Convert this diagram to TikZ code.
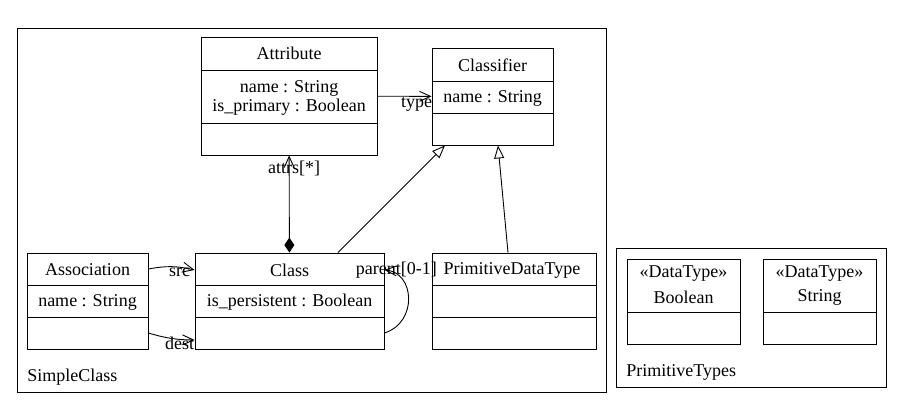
\documentclass[tikz,border=0pt]{standalone}
\usepackage{fontspec}
\setmainfont{Liberation Serif}
\usetikzlibrary{arrows.meta, positioning}

\begin{document}
\begin{tikzpicture}[x=1pt, y=-1pt, line width=0.9pt,
    font=\fontsize{18}{19.5}\selectfont,
    every node/.style={inner sep=0pt},
    box/.style={draw, minimum width=#1},
    navi/.style={-{Straight Barb[length=11pt, width=10pt]}},
    gen/.style={-{Triangle[open, length=13pt, width=10pt]}},
    comp/.style={{Diamond[length=15pt, width=10pt]}-{Straight Barb[length=11pt, width=10pt]}}]
  \useasboundingbox (0,0) rectangle (901,408);

  % packages
  \draw (17,28) rectangle (606,392);
  \node[anchor=west] (simpleclass) at (27,377) {SimpleClass};
  \draw (616,248) rectangle (886,387);
  \node[anchor=west] (primtypes) at (626,372) {PrimitiveTypes};

  % Attribute
  \node[box=176pt, minimum height=118pt] (attr) at (289,96) {};
  \draw (attr.west |- 0,70) -- (attr.east |- 0,70);
  \draw (attr.west |- 0,123) -- (attr.east |- 0,123);
  \node (attrtitle) at (289,53) {Attribute};
  \node[align=center] (attrfields) at (289,98) {name : String\\is\_primary : Boolean};

  % Classifier
  \node[box=121pt, minimum height=97pt] (clsf) at (492.5,96.5) {};
  \draw (clsf.west |- 0,81) -- (clsf.east |- 0,81);
  \draw (clsf.west |- 0,113) -- (clsf.east |- 0,113);
  \node (clsftitle) at (492.5,65) {Classifier};
  \node (clsffield) at (492.5,98) {name : String};

  % Association
  \node[box=121pt, minimum height=96pt] (assoc) at (87.5,301) {};
  \draw (assoc.west |- 0,285) -- (assoc.east |- 0,285);
  \draw (assoc.west |- 0,317) -- (assoc.east |- 0,317);
  \node (assoctitle) at (87.5,270) {Association};
  \node (assocfield) at (87.5,302) {name : String};

  % Class
  \node[box=189pt, minimum height=96pt] (class) at (289.5,301) {};
  \draw (class.west |- 0,285) -- (class.east |- 0,285);
  \draw (class.west |- 0,317) -- (class.east |- 0,317);
  \node (classtitle) at (289.5,270) {Class};
  \node (classfield) at (289.5,302) {is\_persistent : Boolean};

  % PrimitiveDataType
  \node[box=164pt, minimum height=96pt] (pdt) at (514,301) {};
  \draw (pdt.west |- 0,285) -- (pdt.east |- 0,285);
  \draw (pdt.west |- 0,317) -- (pdt.east |- 0,317);
  \node (pdttitle) at (512,270) {PrimitiveDataType};

  % data types
  \node[box=113pt, minimum height=85pt] (bool) at (683.5,301.5) {};
  \draw (bool.west |- 0,312) -- (bool.east |- 0,312);
  \node (boolst) at (683.5,274) {«DataType»};
  \node (boolname) at (683.5,297.5) {Boolean};
  \node[box=113pt, minimum height=85pt] (str) at (819.5,301.5) {};
  \draw (str.west |- 0,312) -- (str.east |- 0,312);
  \node (strst) at (819.5,274) {«DataType»};
  \node (strname) at (819.5,297.5) {String};

  % connectors
  \draw[navi] (attr) -- (clsf)
    node[at end, anchor=north east, xshift=1pt, yshift=-1pt] (typelbl) {type};
  \draw[comp] (class) -- (attr)
    node[at end, anchor=north, xshift=5pt, yshift=-5pt] (attrslbl) {attrs[*]};
  \draw[gen] ([xshift=48.5pt]class.north) -- ([xshift=-47.5pt]clsf.south);
  \draw[gen] ([xshift=-6pt]pdt.north) -- ([xshift=5.5pt]clsf.south);
  \draw[navi] ([yshift=32pt]assoc.east) to[bend left=12]
    node[at end, anchor=east, xshift=-4pt, yshift=-2pt] (srclbl) {src}
    ([yshift=31pt]class.west);
  \draw[navi] ([yshift=-32pt]assoc.east) to[bend right=8]
    node[at end, anchor=east, yshift=-3pt] (destlbl) {dest}
    ([yshift=-39pt]class.west);
  \draw[navi] ([yshift=-32pt]class.east) .. controls +(34,-11) and +(30,2) .. ([yshift=31pt]class.east);
  \node (parentlbl) at ([xshift=12pt, yshift=31pt]class.east) {parent[0-1]};
\end{tikzpicture}
\end{document}
